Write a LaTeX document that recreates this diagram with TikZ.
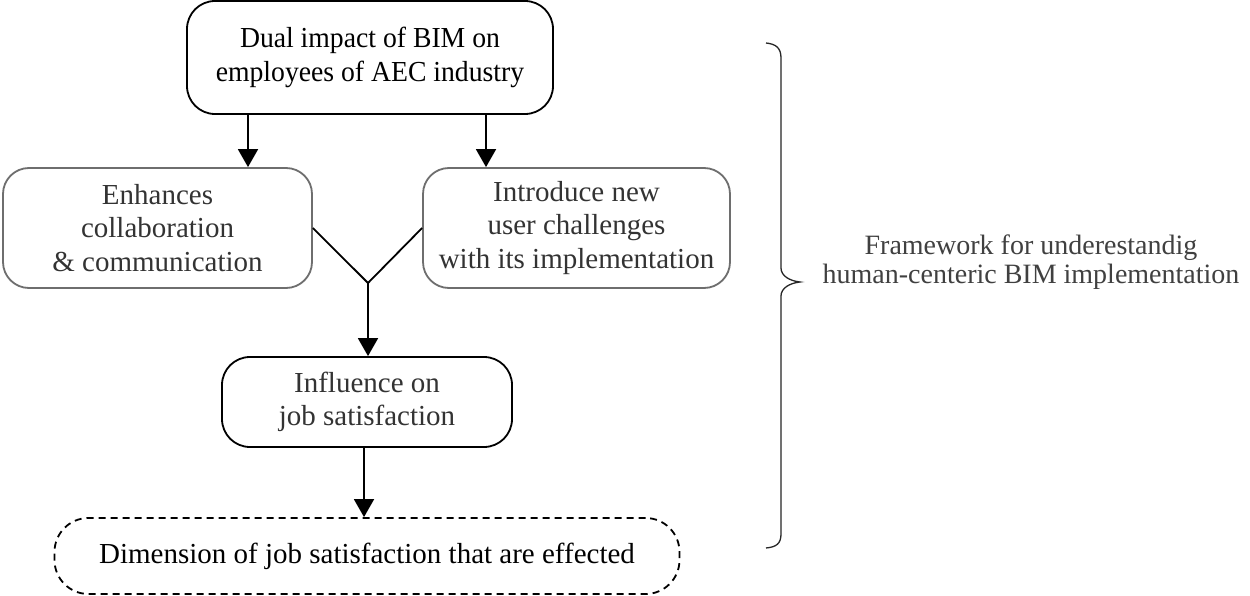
\documentclass[tikz,border=0pt]{standalone}
\usepackage{fontspec}
\setmainfont{Liberation Serif}
\newfontfamily\condserif{Liberation Serif}[FakeStretch=0.955]
\usetikzlibrary{arrows.meta,calc}
\definecolor{boxgray}{HTML}{6E6E6E}
\definecolor{txtgray}{HTML}{333333}
\definecolor{fwgray}{HTML}{404040}
\tikzset{
  boxblack/.style={draw=black, line width=1.8pt, rounded corners=28pt, align=center, inner sep=0pt, text=black},
  boxgrey/.style={draw=boxgray, line width=1.8pt, rounded corners=26pt, align=center, inner sep=0pt, text=txtgray},
  boxdash/.style={draw=black, line width=1.8pt, dash pattern=on 7pt off 5pt, rounded corners=34pt, align=center, inner sep=0pt, text=black},
  arr/.style={line width=1.8pt, -{Triangle[length=18pt,width=20pt]}},
  joinline/.style={line width=1.8pt},
  bigtxt/.style={font=\condserif\fontsize{29}{34}\selectfont},
  midtxt/.style={font=\fontsize{29}{33.5}\selectfont},
}
\begin{document}
\begin{tikzpicture}[x=1pt,y=-1pt]
\useasboundingbox (0,0) rectangle (1250,596);
\fill[white] (0,0) rectangle (1250,596);
\node[boxblack, bigtxt, minimum width=366pt, minimum height=113pt] (top) at (370,57.5) {Dual impact of BIM on\\employees of AEC industry};
\node[boxgrey, midtxt, minimum width=309pt, minimum height=120pt] (lt) at (157.5,228) {Enhances\\collaboration\\\& communication};
\node[boxgrey, midtxt, minimum width=307pt, minimum height=120pt] (rt) at (576.5,228) {Introduce new\\user challenges\\with its implementation};
\node[boxblack, midtxt, text=txtgray, minimum width=290pt, minimum height=90pt] (inf) at (367,402) {Influence on\\job satisfaction};
\node[boxdash, midtxt, minimum width=625pt, minimum height=76pt] (dim) at (367,556) {Dimension of job satisfaction that are effected};
\coordinate (j) at (368,283);
\draw[arr] ([xshift=-122pt]top.south) -- ([xshift=-122pt]top.south |- lt.north);
\draw[arr] ([xshift=116pt]top.south) -- ([xshift=116pt]top.south |- rt.north);
\draw[joinline] (lt.east) -- (j) -- (rt.west);
\draw[arr] (j) -- (j |- inf.north);
\draw[arr] ([xshift=-3pt]inf.south) -- ([xshift=-3pt]inf.south |- dim.north);
\draw[line width=1.3pt, black!85] (766,43) .. controls (776,44) and (781,48) .. (781,58)
  -- (781,268) .. controls (781,276) and (790,281) .. (800,282)
  .. controls (790,283) and (781,288) .. (781,296)
  -- (781,534) .. controls (781,544) and (776,547) .. (766,548);
\node[text=fwgray, align=center, font=\fontsize{28}{29}\selectfont] (fw) at (1031,262) {Framework for underestandig\\human-centeric BIM implementation};
\end{tikzpicture}
\end{document}
